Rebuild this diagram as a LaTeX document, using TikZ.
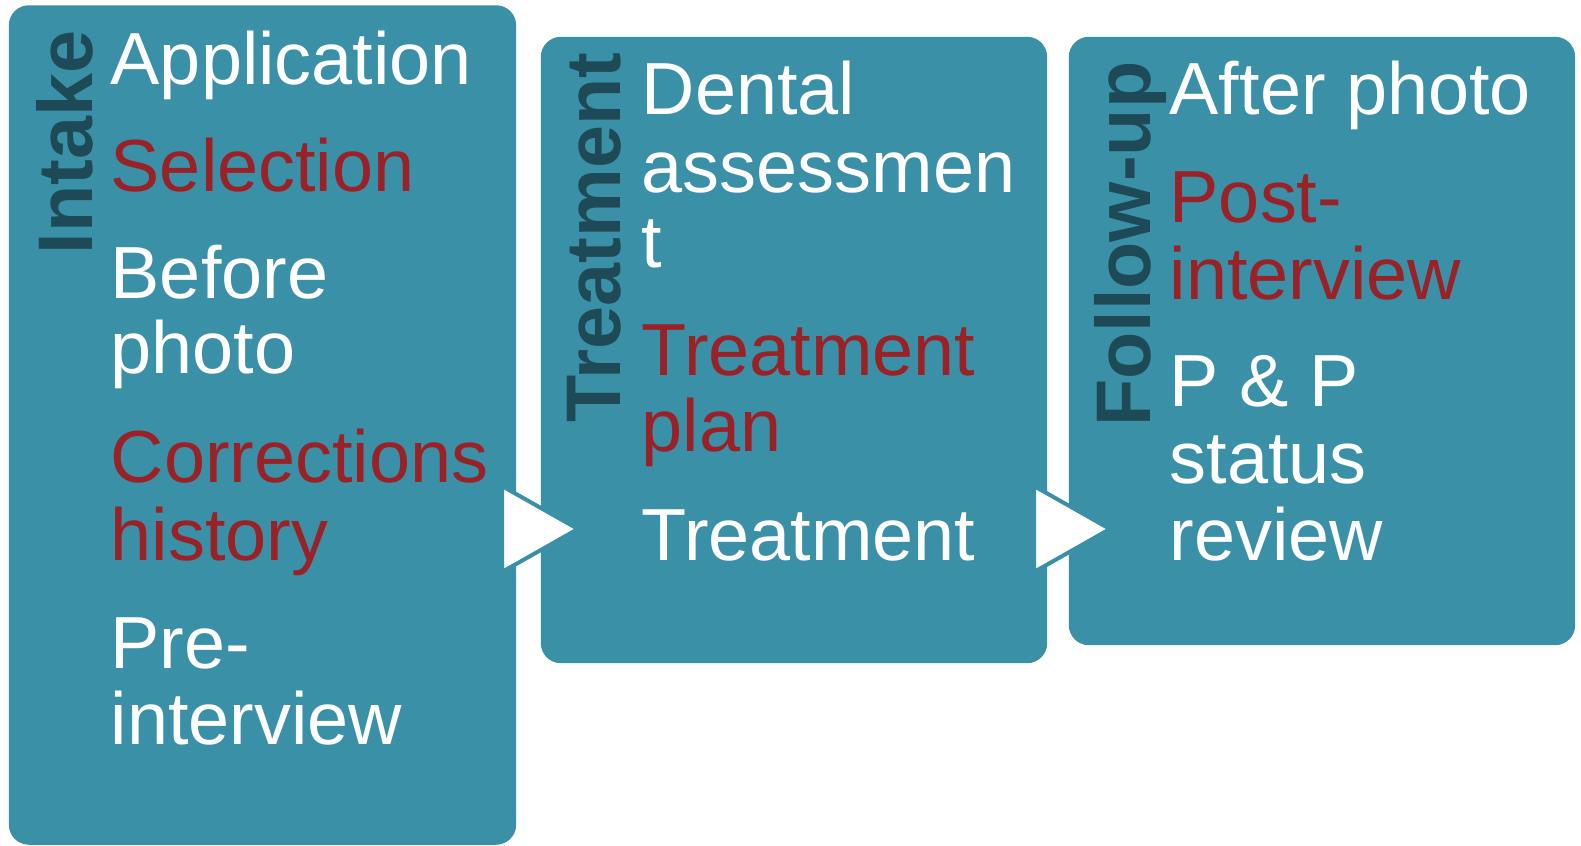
\documentclass[tikz,border=0pt]{standalone}
\usepackage{fontspec}
\setmainfont{Liberation Sans}
\usetikzlibrary{calc, positioning}
\definecolor{stageteal}{RGB}{58,144,167}
\definecolor{stagedark}{RGB}{29,74,86}
\definecolor{itemred}{RGB}{154,33,37}
\tikzset{
    stage/.style = {
        fill=stageteal, draw=none, rectangle, rounded corners=0.2cm, inner sep=0pt
    },
    stagetitle/.style = {
        rotate=90, anchor=base east, inner sep=0pt, text=stagedark,
        font=\fontsize{22}{23}\selectfont\bfseries
    },
    item/.style = {
        anchor=base west, inner sep=0pt, font=\fontsize{21}{22}\selectfont
    },
    flowtri/.style = {
        fill=white, draw=stageteal, line width=0.04cm, line join=miter
    }
}

\begin{document}
\begin{tikzpicture}[x=0.01cm, y=-0.01cm]
        \useasboundingbox (0,0) rectangle (1581,845);
        % Place the stages
        \node [stage, minimum width=5.07cm, minimum height=8.39cm] (intake) at (262.5,425) {};
        \node [stage, minimum width=5.06cm, minimum height=6.26cm] (treat) at (794,350) {};
        \node [stage, minimum width=5.06cm, minimum height=6.08cm] (follow) at (1322,341) {};
        % Arrows between the stages
        \draw [flowtri] (502,486) -- (578,529) -- (502,572) -- cycle;
        \draw [flowtri] (1034,486) -- (1110,529) -- (1034,572) -- cycle;
        % Stage titles
        \node [stagetitle] (intake-title) at (92,30) {Intake};
        \node [stagetitle] (treat-title) at (620,52) {Treatment};
        \node [stagetitle] (follow-title) at (1150,61) {Follow-up};
        % Stage items, one line each
        \foreach \txt/\col/\yb [count=\i] in {Application/white/84, Selection/itemred/191,
            Before/white/298, photo/white/373, Corrections/itemred/482, history/itemred/560,
            Pre-/white/668, interview/white/744}{
            \node [item, text=\col] (intake-\i) at (110,\yb) {\txt};
        }
        \foreach \txt/\col/\yb [count=\i] in {Dental/white/114, assessmen/white/192,
            t/white/267, Treatment/itemred/375, plan/itemred/451, Treatment/white/560}{
            \node [item, text=\col] (treat-\i) at (641,\yb) {\txt};
        }
        \foreach \txt/\col/\yb [count=\i] in {After photo/white/114, Post-/itemred/222,
            interview/itemred/299, P \& P/white/406, status/white/483, review/white/560}{
            \node [item, text=\col] (follow-\i) at (1169,\yb) {\txt};
        }
\end{tikzpicture}
\end{document}
